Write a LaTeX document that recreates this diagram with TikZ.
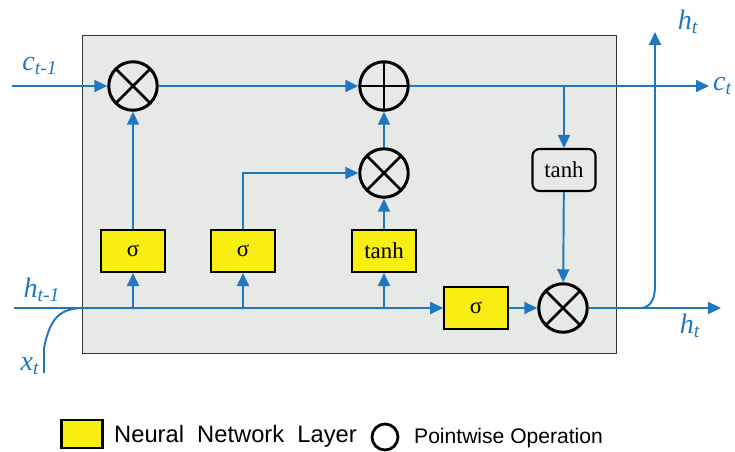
\documentclass[tikz,border=0pt]{standalone}
\usepackage{fontspec}
\setmainfont{Liberation Serif}
\setsansfont{Liberation Sans}
\usepackage{tikz}
\usetikzlibrary{arrows.meta, positioning}
\usepackage{xcolor}
\definecolor{lstmblue}{HTML}{1E77C0}
\definecolor{lstmyellow}{HTML}{F8EE12}
\definecolor{cellgray}{HTML}{E7E9E7}

\begin{document}
\begin{tikzpicture}[
        x=0.02cm, y=-0.02cm,
        flow/.style={draw=lstmblue, line width=1.1pt, -{Triangle[length=0.26cm, width=0.24cm]}},
        wire/.style={draw=lstmblue, line width=1.1pt},
        layer/.style={draw=black, line width=1.2pt, fill=lstmyellow, minimum width=1.27cm, minimum height=0.84cm, inner sep=0pt, font=\fontsize{13}{15}\selectfont},
        pwop/.style={circle, draw=black, line width=1.7pt, minimum size=0.97cm, inner sep=0pt},
        mult/.style={pwop, path picture={\draw[line width=1.6pt] (path picture bounding box.south west) -- (path picture bounding box.north east) (path picture bounding box.north west) -- (path picture bounding box.south east);}},
        plus/.style={pwop, path picture={\draw[line width=1.6pt] (path picture bounding box.north) -- (path picture bounding box.south) (path picture bounding box.west) -- (path picture bounding box.east);}},
        var/.style={text=lstmblue, font=\fontsize{16}{18}\selectfont\itshape}
      ]
      \useasboundingbox (0,0) rectangle (735,451);

      % Cell body
      \node[draw=black!80, line width=0.8pt, fill=cellgray, minimum width=10.68cm, minimum height=6.36cm, anchor=north west, inner sep=0pt] (cell) at (82,35) {};

      % Pointwise operations
      \node[mult] (forgetMult) at (133,86) {};
      \node[plus] (cellAdd) at (384,86) {};
      \node[mult] (inputMult) at (384,173) {};
      \node[mult] (outputMult) at (563,308) {};

      % Layers
      \node[layer] (forgetGate) at (133,251) {σ};
      \node[layer] (inputGate) at (243,251) {σ};
      \node[layer] (candidate) at (384,251) {tanh};
      \node[layer] (outputGate) at (476,308) {σ};
      \node[draw=black, line width=1.2pt, rounded corners=4pt, fill=cellgray, minimum width=1.26cm, minimum height=0.84cm, inner sep=0pt, font=\fontsize{13}{15}\selectfont] (cellTanh) at (564,170) {tanh};

      % Free ends
      \coordinate (cellIn) at (12,86);
      \coordinate (cellOut) at (709,86);
      \coordinate (cellBranch) at (564,86);
      \coordinate (hiddenIn) at (14,308);
      \coordinate (hiddenOut) at (721,308);
      \coordinate (hiddenBranch) at (640,308);
      \coordinate (hiddenUp) at (655,32);
      \coordinate (inputIn) at (44,373);
      \coordinate (inputJoin) at (84,308);
      \coordinate (forgetTap) at (133,308);
      \coordinate (inputTap) at (243,308);
      \coordinate (candTap) at (384,308);
      \coordinate (inputTurn) at (243,173);

      % Cell state line
      \draw[flow] (cellIn) -- (forgetMult);
      \draw[flow] (forgetMult) -- (cellAdd);
      \draw[flow] (cellAdd) -- (cellOut);
      \draw[flow] (cellBranch) -- (cellTanh);
      \draw[flow] (cellTanh) -- (outputMult);

      % Hidden state line
      \draw[flow] (hiddenIn) -- (outputGate);
      \draw[wire] (inputIn) -- ++(0,-25) .. controls (50,318) and (60,308) .. (inputJoin);
      \draw[flow] (forgetTap) -- (forgetGate);
      \draw[flow] (inputTap) -- (inputGate);
      \draw[flow] (candTap) -- (candidate);
      \draw[flow] (outputGate) -- (outputMult);
      \draw[flow] (outputMult) -- (hiddenOut);
      \draw[flow] (hiddenBranch) .. controls (650,308) and (655,300) .. (655,286) -- (hiddenUp);

      % Gates to operations
      \draw[flow] (forgetGate) -- (forgetMult);
      \draw[flow] (inputGate.north) -- (inputTurn) -- (inputMult);
      \draw[flow] (candidate) -- (inputMult);
      \draw[flow] (inputMult) -- (cellAdd);

      % Labels
      \node[var] (cPrev) at (40,66) {c\textsubscript{t-1}};
      \node[var] (hPrev) at (42,290) {h\textsubscript{t-1}};
      \node[var] (xNow) at (30,366) {x\textsubscript{t}};
      \node[var, anchor=east, inner sep=1pt] (cNow) at (734,86) {c\textsubscript{t}};
      \node[var] (hTop) at (688,22) {h\textsubscript{t}};
      \node[var] (hRight) at (690,326) {h\textsubscript{t}};

      % Legend
      \node[draw=black, line width=1.2pt, fill=lstmyellow, minimum width=0.82cm, minimum height=0.56cm, inner sep=0pt] (legLayer) at (82,434) {};
      \node[anchor=west, font=\sffamily\fontsize{13.5}{15}\selectfont] (legLayerText) at (108,436) {Neural\ \ Network\ \ Layer};
      \node[circle, draw=black, line width=1.6pt, minimum size=0.52cm, inner sep=0pt] (legOp) at (385,437) {};
      \node[anchor=west, font=\sffamily\fontsize{12}{13}\selectfont] (legOpText) at (408,438) {Pointwise Operation};
  \end{tikzpicture}
\end{document}
